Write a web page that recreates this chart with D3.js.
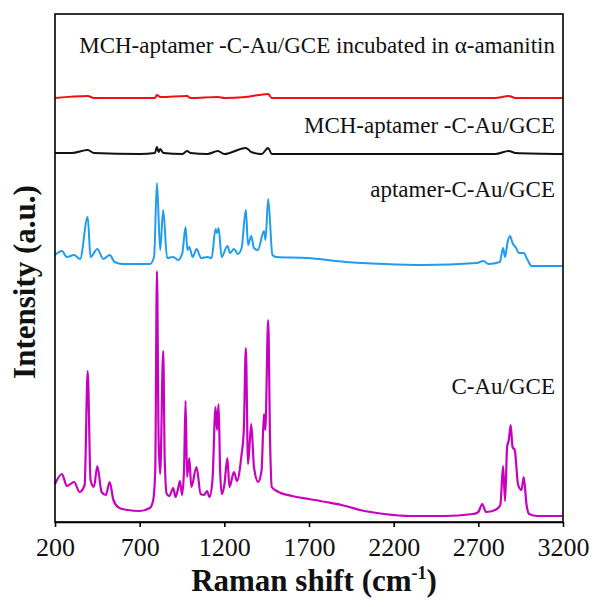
<!DOCTYPE html>
<html>
<head>
<meta charset="utf-8">
<script src="https://cdn.jsdelivr.net/npm/d3@7"></script>
<style>
  body { margin: 0; background: #fff; }
  svg { display: block; font-family: "Liberation Serif", "Times New Roman", serif; }
</style>
</head>
<body>
<svg id="chart" width="603" height="607"></svg>
<script>
// spectra: [Raman shift (cm-1), intensity (a.u., stacked offset included)]
const cAuGce = [
  [200, 38], [241, 48], [270, 36], [313, 40], [345, 30], [375, 37], [393, 151], [410, 42],
  [430, 35], [450, 56], [475, 30], [500, 27], [523, 40], [545, 22], [580, 14], [630, 12],
  [700, 11], [760, 14], [780, 22], [792, 52], [802, 251], [812, 82], [821, 48], [839, 171],
  [848, 62], [860, 28], [875, 26], [898, 34], [912, 25], [925, 32], [938, 41], [950, 27],
  [962, 52], [971, 121], [980, 45], [993, 64], [1005, 35], [1036, 55], [1060, 28], [1080, 27],
  [1098, 31], [1112, 25], [1130, 42], [1148, 115], [1157, 92], [1166, 118], [1175, 52],
  [1185, 28], [1200, 37], [1218, 64], [1230, 35], [1257, 50], [1275, 41], [1300, 65],
  [1315, 92], [1327, 174], [1340, 58], [1359, 98], [1375, 55], [1400, 40], [1420, 52],
  [1434, 108], [1442, 92], [1459, 202], [1470, 82], [1480, 35], [1510, 31], [1600, 26],
  [1700, 23], [1800, 20], [1916, 16], [2000, 12], [2144, 8], [2300, 6], [2500, 6], [2668, 8],
  [2700, 10], [2723, 18], [2745, 10], [2800, 12], [2830, 17], [2846, 56], [2858, 21],
  [2870, 75], [2880, 82], [2891, 97], [2902, 75], [2915, 72], [2935, 37], [2955, 32],
  [2968, 45], [2985, 17], [3000, 8], [3050, 6], [3200, 6]
]
const aptamerCAuGce = [
  [200, 267], [241, 271], [270, 265], [313, 267], [348, 263], [393, 305], [410, 265],
  [450, 273], [485, 263], [523, 267], [552, 260], [600, 258], [760, 258], [785, 265],
  [802, 339], [821, 272], [839, 312], [862, 264], [898, 265], [927, 262], [952, 269],
  [971, 295], [982, 272], [993, 275], [1013, 265], [1036, 273], [1063, 264], [1098, 265],
  [1125, 264], [1148, 293], [1157, 289], [1166, 294], [1184, 265], [1218, 276], [1234, 269],
  [1257, 273], [1280, 268], [1302, 274], [1327, 312], [1340, 277], [1359, 286], [1375, 274],
  [1398, 272], [1434, 291], [1443, 282], [1459, 323], [1484, 267], [1507, 265], [1689, 264],
  [1916, 260], [2144, 258], [2373, 257], [2691, 259], [2730, 261], [2759, 258], [2827, 260],
  [2846, 274], [2858, 265], [2873, 280], [2887, 286], [2902, 279], [2923, 274], [2939, 269],
  [2968, 269], [2991, 262], [3014, 256], [3200, 256]
]
const mchAptamer = [
  [200, 369], [300, 369], [393, 372], [430, 369], [700, 368], [790, 369], [802, 375],
  [812, 370], [821, 373], [840, 369], [952, 368], [980, 371], [1000, 369], [1100, 368],
  [1162, 371], [1200, 368], [1327, 374], [1345, 372], [1359, 370], [1420, 368], [1459, 374],
  [1480, 368], [1700, 368], [2800, 368], [2880, 371], [2920, 369], [3200, 368]
]
const mchAptamerAmanitin = [
  [200, 424], [393, 426], [430, 424], [790, 424], [802, 427], [821, 425], [980, 426],
  [1000, 424], [1162, 425], [1200, 424], [1327, 425], [1459, 428], [1480, 424], [2800, 424],
  [2880, 426], [2920, 424], [3200, 424]
]

const seriesNames = [
  'C-Au/GCE',
  'aptamer-C-Au/GCE',
  'MCH-aptamer -C-Au/GCE',
  'MCH-aptamer -C-Au/GCE incubated in \u03b1-amanitin'
]
const xTicks = [200, 700, 1200, 1700, 2200, 2700, 3200]

const spectra = [cAuGce, aptamerCAuGce, mchAptamer, mchAptamerAmanitin]
const colors = ['#c800c0', '#1e9cf0', '#111111', '#f01010']
const widths = [2.2, 2, 2, 2]
// label baselines in pixels
const labelY = [394, 197, 133, 53]

const margin = { top: 14, right: 40, bottom: 85, left: 55 }
const W = 603, H = 607
const plotW = W - margin.left - margin.right
const plotH = H - margin.top - margin.bottom

const svg = d3.select('#chart')
const g = svg.append('g').attr('transform', `translate(${margin.left},${margin.top})`)

const x = d3.scaleLinear().domain([200, 3200]).range([0, plotW])
const y = d3.scaleLinear().domain([0, 508]).range([plotH, 0])

const line = d3.line().curve(d3.curveMonotoneX).x(d => x(d[0])).y(d => y(d[1]))

spectra.forEach((s, i) => {
  g.append('path')
    .datum(s)
    .attr('fill', 'none')
    .attr('stroke', colors[i])
    .attr('stroke-width', widths[i])
    .attr('stroke-linejoin', 'round')
    .attr('d', line)
})

seriesNames.forEach((name, i) => {
  g.append('text')
    .attr('x', plotW - 8)
    .attr('y', labelY[i] - margin.top)
    .attr('text-anchor', 'end')
    .attr('font-size', 23)
    .attr('fill', '#111')
    .text(name)
})

// frame
g.append('rect')
  .attr('width', plotW).attr('height', plotH)
  .attr('fill', 'none').attr('stroke', '#000').attr('stroke-width', 1.6)

const xAxis = g.append('g')
  .attr('transform', `translate(0,${plotH})`)
  .call(d3.axisBottom(x).tickValues(xTicks).tickFormat(d3.format('d'))
    .tickSize(5).tickSizeOuter(0).tickPadding(11))
xAxis.attr('font-family', null)
xAxis.select('.domain').attr('stroke', '#000').attr('stroke-width', 1.6)
xAxis.selectAll('.tick line').attr('stroke', '#000').attr('stroke-width', 1.6)
xAxis.selectAll('.tick text')
  .attr('font-family', '"Liberation Serif", serif')
  .attr('font-size', 26)
  .attr('fill', '#111')

// axis titles
const xTitle = svg.append('text')
  .attr('x', margin.left + plotW / 2 + 5)
  .attr('y', 591)
  .attr('text-anchor', 'middle')
  .attr('font-size', 31)
  .attr('font-weight', 'bold')
  .attr('fill', '#111')
xTitle.append('tspan').text('Raman shift (cm')
xTitle.append('tspan').attr('font-size', 18).attr('dy', -12).text('-1')
xTitle.append('tspan').attr('dy', 12).text(')')

svg.append('text')
  .attr('transform', 'translate(35,282) rotate(-90)')
  .attr('text-anchor', 'middle')
  .attr('font-size', 31)
  .attr('font-weight', 'bold')
  .attr('fill', '#111')
  .text('Intensity (a.u.)')
</script>
</body>
</html>
